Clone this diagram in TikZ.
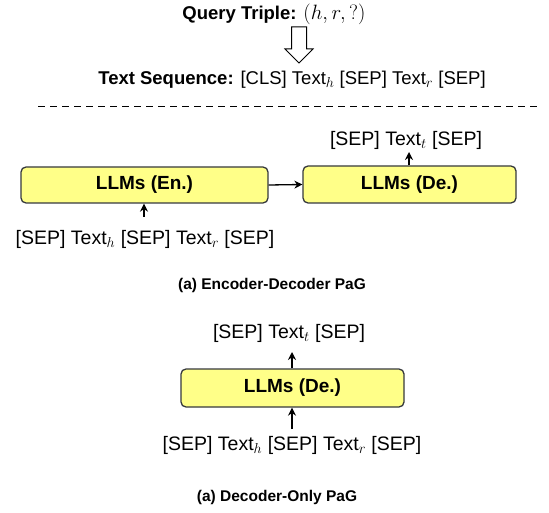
\documentclass[tikz,border=0pt]{standalone}
\usepackage{fontspec}
\setmainfont{Liberation Sans}
\usetikzlibrary{arrows.meta}
\DeclareMathSizes{18.5}{21.5}{15}{11}
\DeclareMathSizes{19.5}{21}{15}{11}
\definecolor{llmfill}{HTML}{FFFF88}
\definecolor{llmline}{HTML}{36393D}
\tikzset{
  llm/.style={draw=llmline, line width=1.3pt, fill=llmfill, rounded corners=5pt,
    font=\fontsize{19}{21}\selectfont\bfseries, inner sep=0pt},
  seq/.style={font=\fontsize{19.5}{21}\selectfont, inner sep=1pt},
  head/.style={font=\fontsize{18.5}{21}\selectfont, inner sep=1pt},
  captext/.style={font=\fontsize{15.5}{17}\selectfont\bfseries},
  arr/.style={-{Stealth[length=8pt,width=8pt]}, line width=1.3pt}
}
\begin{document}
\begin{tikzpicture}[x=1pt,y=-1pt]
      \useasboundingbox (0,0) rectangle (549,513);
      \draw
        (274,14) node[head] (query){\textbf{Query Triple:} $(h,r,?)$}
        (292,80) node[head] (textseq){\textbf{Text Sequence:} [CLS] Text$_h$ [SEP] Text$_r$ [SEP]};
      % hollow arrow
      \draw[line width=1pt, line join=miter]
        (291.5,27) -- (291.5,49) -- (285,49) -- (299,63) -- (313,49) -- (306.5,49) -- (306.5,27) -- cycle;
      \draw[dash pattern=on 7pt off 5pt, line width=1pt] (38,107) -- (538,107);
      % encoder-decoder
      \node[llm, minimum width=247pt, minimum height=36pt] (enc) at (144.5,185) {LLMs (En.)};
      \node[llm, minimum width=213pt, minimum height=37pt] (dec) at (409.5,184.5) {LLMs (De.)};
      \node[seq] (encin) at (145,239) {[SEP] Text$_h$ [SEP] Text$_r$ [SEP]};
      \node[seq] (decout) at (406,140) {[SEP] Text$_t$ [SEP]};
      \node[captext] (capa) at (272,285) {(a) Encoder-Decoder PaG};
      \coordinate (encfoot) at (144,217);
      \coordinate (dechead) at (409,152);
      % decoder-only
      \node[llm, minimum width=223pt, minimum height=38pt] (deco) at (292.5,388) {LLMs (De.)};
      \node[seq] (decoout) at (289,333) {[SEP] Text$_t$ [SEP]};
      \node[seq] (decoin) at (292,445) {[SEP] Text$_h$ [SEP] Text$_r$ [SEP]};
      \node[captext] (capb) at (277,497) {(a) Decoder-Only PaG};
      \coordinate (decofoot) at (292,429);
      \coordinate (decohead) at (292,352);
      \begin{scope}[arr]
        \draw (enc.east) -- (dec.west);
        \draw (encfoot) -- (encfoot |- enc.south);
        \draw (dechead |- dec.north) -- (dechead);
        \draw (decohead |- deco.north) -- (decohead);
        \draw (decofoot) -- (decofoot |- deco.south);
      \end{scope}
    \end{tikzpicture}
\end{document}
